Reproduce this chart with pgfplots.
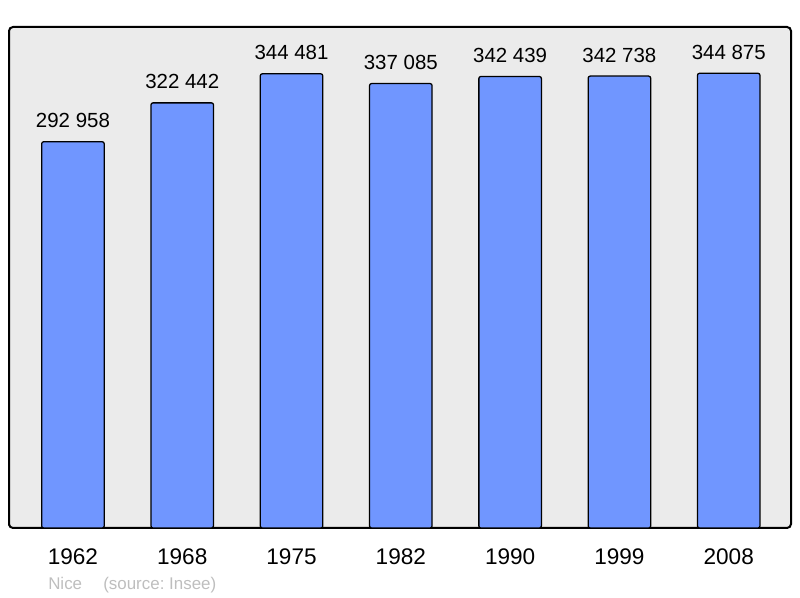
\documentclass[border=0pt]{standalone}
\usepackage{pgfplots}
\pgfplotsset{compat=1.18}
\usepackage{fontspec}
\setmainfont{Liberation Sans}
\definecolor{bg}{RGB}{235,235,235}
\definecolor{barblue}{RGB}{112,150,255}
\definecolor{srcgray}{RGB}{190,190,190}
\frenchspacing
\begin{document}
\begin{tikzpicture}[x=1bp,y=1bp]
\begin{axis}[
  scale only axis,
  width=586.5bp, height=375.75bp,
  xmin=-0.585, xmax=6.57,
  ymin=0, ymax=380000,
  axis background/.style={fill=bg},
  axis line style={line width=1.5bp, rounded corners=3bp},
  ytick=\empty,
  xtick={0,1,2,3,4,5,6},
  xticklabels={1962,1968,1975,1982,1990,1999,2008},
  major tick length=0pt,
  xticklabel style={font=\fontsize{17}{20}\selectfont, anchor=base, inner sep=0pt, yshift=-27.75bp},
  ybar, bar width=0.572,
  point meta=explicit symbolic,
  nodes near coords,
  every node near coord/.append style={font=\fontsize{15.4}{18}\selectfont, anchor=base, inner sep=0pt, yshift=10.5bp, black},
  clip=false,
]
\addplot[fill=barblue, draw=black, line width=0.95bp, rounded corners=1.5bp] coordinates {
  (0,292958) [292 958]
  (1,322442) [322 442]
  (2,344481) [344 481]
  (3,337085) [337 085]
  (4,342439) [342 439]
  (5,342738) [342 738]
  (6,344875) [344 875]
};
\node[anchor=base west, inner sep=0pt, text=srcgray, font=\fontsize{12.75}{15}\selectfont] at ([xshift=29.25bp, yshift=-46.5bp]rel axis cs:0,0) {Nice\hspace{1.25em}(source: Insee)};
\end{axis}
\useasboundingbox (-6.75,-52.5) rectangle (593.25,396);
\end{tikzpicture}
\end{document}
